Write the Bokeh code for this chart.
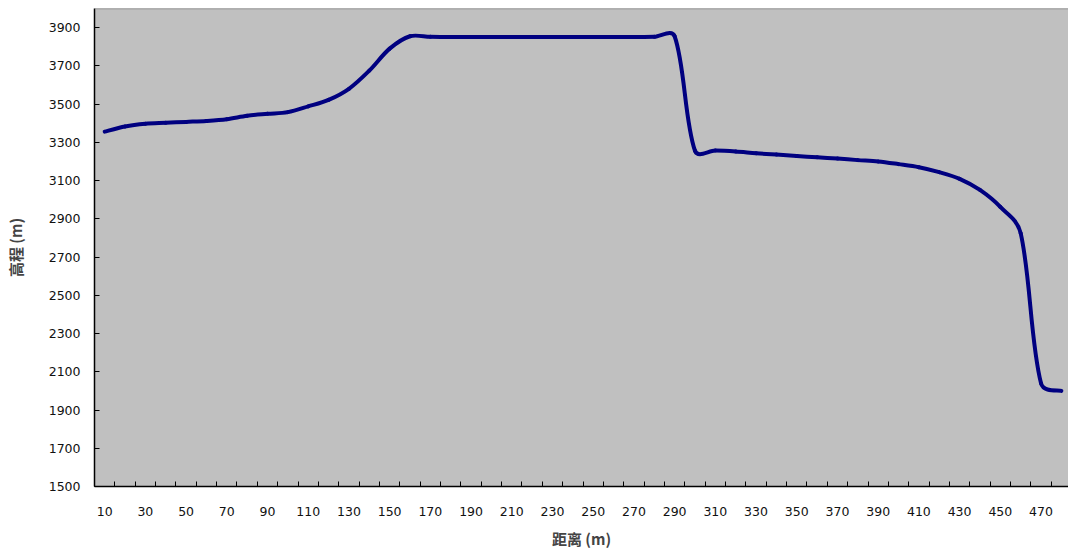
import math
from bokeh.plotting import figure
from bokeh.models import FixedTicker, Span, Range1d
from bokeh.embed import file_html
from bokeh.resources import INLINE

# ---- data ----
distance = [10, 20, 30, 40, 50, 60, 70, 80, 90, 100,
            110, 120, 130, 140, 150, 160, 170, 180, 190, 200,
            210, 220, 230, 240, 250, 260, 270, 280, 290, 300,
            310, 320, 330, 340, 350, 360, 370, 380, 390, 400,
            410, 420, 430, 440, 450, 460, 470, 480]
elevation = [3356, 3383, 3397, 3402, 3407, 3412, 3421, 3439, 3449, 3458,
             3488, 3522, 3580, 3675, 3790, 3855, 3852, 3851, 3851, 3851,
             3851, 3851, 3851, 3851, 3851, 3851, 3851, 3852, 3855, 3256,
             3257, 3252, 3243, 3236, 3228, 3222, 3215, 3207, 3200, 3186,
             3170, 3144, 3109, 3051, 2962, 2825, 2040, 2000]
y_ticks = [1500, 1700, 1900, 2100, 2300, 2500, 2700, 2900, 3100, 3300, 3500, 3700, 3900]
x_title = "距离 (m)"
y_title = "高程 (m)"

n = len(distance)
pos = [i + 1 for i in range(n)]          # category positions

W, H = 1068, 556
left, top, bottom = 94, 8, 70
x_end = 48.35
p = figure(width=W, height=H, output_backend="svg", toolbar_location=None,
           x_range=Range1d(0.5, x_end), y_range=Range1d(1500, 4000),
           min_border_left=left, min_border_right=0, min_border_top=top, min_border_bottom=bottom)
p.background_fill_color = "#C0C0C0"
p.border_fill_color = "white"
p.outline_line_color = None
p.xgrid.visible = False
p.ygrid.visible = False

# smoothed line (Excel-like bezier smoothing, control arms weighted by segment length)
sx = (W - left) / (x_end - 0.5)
sy = (H - top - bottom) / 2500.0
def seg_w(a, b):
    return math.hypot((pos[b] - pos[a]) * sx, (elevation[b] - elevation[a]) * sy) ** 0.75
t = 0.32
x0, y0, x1, y1, cx0, cy0, cx1, cy1 = [], [], [], [], [], [], [], []
for i in range(n - 1):
    ip = max(i - 1, 0)
    inn = min(i + 2, n - 1)
    w_cur = seg_w(i, i + 1)
    w_prev = seg_w(ip, i) if i > 0 else w_cur
    w_next = seg_w(i + 1, inn) if i + 2 < n else w_cur
    f0 = t * w_cur / (w_prev + w_cur)
    f1 = t * w_cur / (w_cur + w_next)
    x0.append(pos[i]); y0.append(elevation[i])
    x1.append(pos[i + 1]); y1.append(elevation[i + 1])
    cx0.append(pos[i] + f0 * (pos[i + 1] - pos[ip]))
    cy0.append(elevation[i] + f0 * (elevation[i + 1] - elevation[ip]))
    cx1.append(pos[i + 1] - f1 * (pos[inn] - pos[i]))
    cy1.append(elevation[i + 1] - f1 * (elevation[inn] - elevation[i]))

p.bezier(x0=x0, y0=y0, x1=x1, y1=y1, cx0=cx0, cy0=cy0, cx1=cx1, cy1=cy1,
         line_color="#000080", line_width=4, line_cap="round")

p.add_layout(Span(location=4000, dimension="width", line_color="#808080", line_width=1.5))

font = "DejaVu Sans"
# y axis
p.yaxis.ticker = FixedTicker(ticks=y_ticks, minor_ticks=[])
p.yaxis.major_tick_in = 5
p.yaxis.major_tick_out = 0
p.yaxis.minor_tick_in = 0
p.yaxis.minor_tick_out = 0
p.yaxis.axis_line_color = "black"
p.yaxis.axis_line_width = 1.5
p.yaxis.major_tick_line_color = "black"
p.yaxis.major_label_standoff = 14
p.yaxis.major_label_text_font = font
p.yaxis.major_label_text_font_size = "12.5px"
p.yaxis.major_label_text_color = "#111111"
p.yaxis.axis_label = y_title
p.yaxis.axis_label_text_font = "Noto Sans CJK SC"
p.yaxis.axis_label_text_font_style = "bold"
p.yaxis.axis_label_text_font_size = "15px"
p.yaxis.axis_label_standoff = 20

# x axis: labels on every other category, ticks on category boundaries
label_pos = pos[::2]
p.xaxis.ticker = FixedTicker(ticks=label_pos, minor_ticks=[k + 0.5 for k in range(n + 1)])
p.xaxis.major_label_overrides = {pos[i]: str(distance[i]) for i in range(0, n, 2)}
p.xaxis.major_tick_in = 0
p.xaxis.major_tick_out = 0
p.xaxis.minor_tick_in = 5
p.xaxis.minor_tick_out = 0
p.xaxis.minor_tick_line_color = "black"
p.xaxis.axis_line_color = "black"
p.xaxis.axis_line_width = 1.5
p.xaxis.major_label_standoff = 20
p.xaxis.major_label_text_font = font
p.xaxis.major_label_text_font_size = "12.5px"
p.xaxis.major_label_text_color = "#111111"
p.xaxis.axis_label = x_title
p.xaxis.axis_label_text_font = "Noto Sans CJK SC"
p.xaxis.axis_label_text_font_style = "bold"
p.xaxis.axis_label_text_font_size = "15px"
p.xaxis.axis_label_standoff = 9

open("out.html", "w").write(file_html(p, INLINE))
